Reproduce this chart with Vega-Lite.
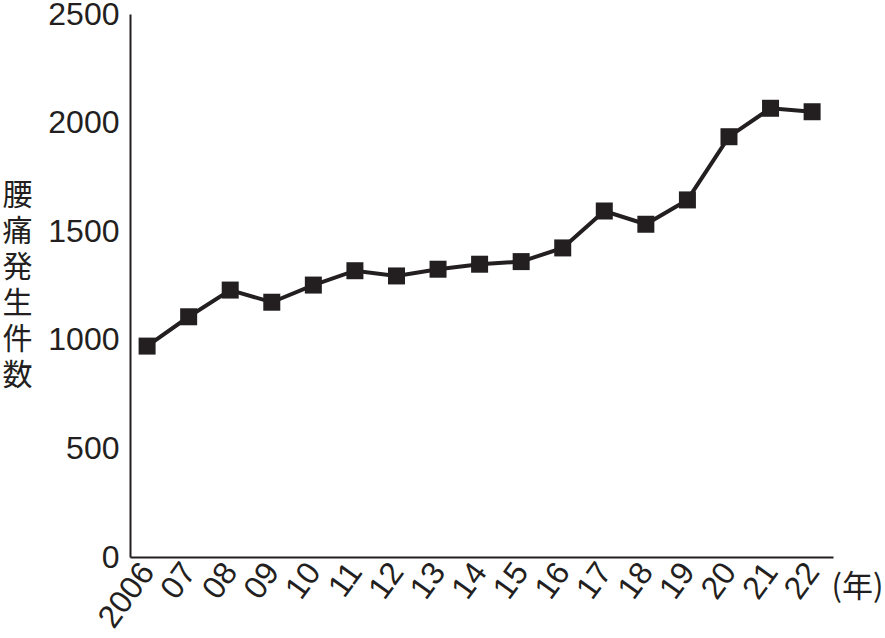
{
  "$schema": "https://vega.github.io/schema/vega-lite/v6.json",
  "autosize": "none",
  "width": 703,
  "height": 543,
  "padding": {"left": 130, "top": 14, "right": 52, "bottom": 81},
  "background": "white",
  "data": {
    "values": [
      {"year": "2006", "count": 971},
      {"year": "07", "count": 1106},
      {"year": "08", "count": 1229},
      {"year": "09", "count": 1173},
      {"year": "10", "count": 1252},
      {"year": "11", "count": 1318},
      {"year": "12", "count": 1294},
      {"year": "13", "count": 1325},
      {"year": "14", "count": 1348},
      {"year": "15", "count": 1360},
      {"year": "16", "count": 1423},
      {"year": "17", "count": 1593},
      {"year": "18", "count": 1532},
      {"year": "19", "count": 1644},
      {"year": "20", "count": 1935},
      {"year": "21", "count": 2066},
      {"year": "22", "count": 2050}
    ]
  },
  "encoding": {
    "x": {
      "field": "year", "type": "ordinal", "sort": null,
      "scale": {"type": "point", "padding": 0.457, "align": 0.45},
      "axis": {
        "title": "(年)",
        "titleFont": "Noto Sans CJK JP",
        "titleFontSize": 31,
        "titleFontWeight": "normal",
        "titleAngle": 0,
        "titleAlign": "center",
        "titleBaseline": "middle",
        "titleX": 727,
        "titleY": 30,
        "labelAngle": -54,
        "labelFontSize": 32,
        "labelPadding": 9
      }
    },
    "y": {
      "field": "count", "type": "quantitative",
      "scale": {"domain": [0, 2500], "nice": false},
      "axis": {
        "values": [0, 500, 1000, 1500, 2000, 2500],
        "format": "d",
        "title": ["腰", "痛", "発", "生", "件", "数"],
        "titleFont": "Noto Sans CJK JP",
        "titleFontSize": 30,
        "titleFontWeight": "normal",
        "titleLineHeight": 36,
        "titleAngle": 0,
        "titleAlign": "center",
        "titleBaseline": "middle",
        "titleX": -113,
        "titleY": 181,
        "labelFontSize": 32,
        "labelPadding": 11
      }
    }
  },
  "layer": [
    {"mark": {"type": "line", "color": "#231f20", "strokeWidth": 4}},
    {"mark": {"type": "point", "shape": "square", "filled": true, "opacity": 1, "size": 289, "color": "#231f20"}}
  ],
  "config": {
    "view": {"stroke": null},
    "axis": {
      "grid": false,
      "ticks": false,
      "domainColor": "#231f20",
      "domainWidth": 2,
      "labelColor": "#231f20",
      "titleColor": "#231f20",
      "labelFont": "Liberation Sans",
      "labelOverlap": false
    }
  }
}
